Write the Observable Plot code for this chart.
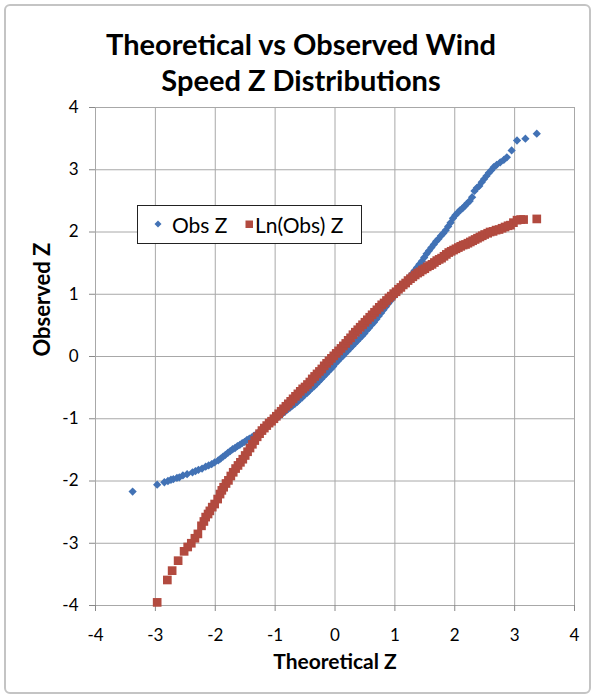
<!DOCTYPE html>
<html><head><meta charset="utf-8">
<script src="https://cdn.jsdelivr.net/npm/d3@7"></script>
<script src="https://cdn.jsdelivr.net/npm/@observablehq/plot@0.6"></script>
<style>
body{margin:0;background:#fff;}
#wrap{position:relative;width:594px;height:699px;overflow:hidden;font-family:Lato,"Open Sans",sans-serif;background:#fff;}
#frame{position:absolute;left:4px;top:4px;width:587px;height:690px;border:2px solid #c4c4c4;border-radius:6px;box-sizing:border-box;}
#title{position:absolute;left:0;width:602px;top:26px;text-align:center;font-weight:bold;font-size:29px;line-height:36px;color:#000;}
#chart{position:absolute;left:0;top:0;}
#legend{position:absolute;left:137px;top:205px;width:225px;height:39px;border:1px solid #222;background:#fff;box-sizing:border-box;font-size:21px;color:#000;}
#legend .it{position:absolute;top:0;line-height:37px;white-space:nowrap;}
#legend svg{position:absolute;}
</style></head>
<body>
<div id="wrap">
  <div id="frame"></div>
  <div id="chart"></div>
  <div id="title">Theoretical vs Observed Wind<br>Speed Z Distributions</div>
  <div id="legend">
    <svg style="left:15px;top:13px" width="10" height="10"><path d="M5,1.5L8.5,5L5,8.5L1.5,5Z" fill="#4272b5"/></svg>
    <span class="it" style="left:34px">Obs Z</span>
    <svg style="left:107px;top:14px" width="9" height="9"><rect x="0.5" y="0.5" width="7.5" height="7.5" fill="#b24a3f"/></svg>
    <span class="it" style="left:117px">Ln(Obs) Z</span>
  </div>
</div>
<script>
const ticks = [-4, -3, -2, -1, 0, 1, 2, 3, 4];
const seriesNames = ["Obs Z", "Ln(Obs) Z"];

const obsX = [-3.38,-2.97,-2.85,-2.79,-2.74,-2.70,-2.64,-2.60,-2.54,-2.47,-2.38,-2.33,-2.28,-2.22,-2.16,-2.11,-2.06,-2.01,-1.95,-1.91,-1.87,-1.83,-1.79,-1.75,-1.71,-1.67,-1.63,-1.59,-1.55,-1.51,-1.47,-1.43,-1.39,-1.35,-1.31,-1.27,-1.23,-1.19,-1.15,-1.11,-1.07,-1.03,-0.99,-0.95,-0.91,-0.87,-0.83,-0.79,-0.75,-0.71,-0.67,-0.63,-0.59,-0.55,-0.51,-0.47,-0.43,-0.39,-0.35,-0.31,-0.27,-0.23,-0.19,-0.15,-0.11,-0.07,-0.03,0.01,0.05,0.09,0.13,0.17,0.21,0.25,0.29,0.33,0.37,0.41,0.45,0.49,0.53,0.57,0.61,0.65,0.69,0.73,0.77,0.81,0.85,0.89,0.93,0.97,1.01,1.05,1.09,1.13,1.17,1.21,1.25,1.29,1.33,1.37,1.41,1.45,1.49,1.53,1.57,1.61,1.65,1.69,1.73,1.77,1.81,1.85,1.89,1.93,1.97,2.01,2.05,2.09,2.13,2.17,2.21,2.25,2.29,2.33,2.37,2.41,2.45,2.49,2.53,2.57,2.61,2.65,2.70,2.76,2.82,2.87,2.95,3.04,3.18,3.37];
const obsY = [-2.17,-2.06,-2.02,-2.00,-1.98,-1.97,-1.95,-1.94,-1.91,-1.89,-1.86,-1.84,-1.82,-1.80,-1.77,-1.75,-1.73,-1.70,-1.67,-1.64,-1.61,-1.58,-1.55,-1.52,-1.49,-1.47,-1.44,-1.42,-1.39,-1.37,-1.34,-1.32,-1.30,-1.27,-1.25,-1.22,-1.18,-1.15,-1.12,-1.09,-1.06,-1.03,-1.00,-0.97,-0.94,-0.91,-0.88,-0.85,-0.82,-0.79,-0.76,-0.73,-0.69,-0.66,-0.62,-0.59,-0.55,-0.51,-0.48,-0.44,-0.40,-0.36,-0.32,-0.28,-0.24,-0.20,-0.16,-0.11,-0.07,-0.03,0.01,0.05,0.09,0.13,0.17,0.21,0.25,0.29,0.33,0.37,0.42,0.46,0.51,0.55,0.60,0.65,0.70,0.75,0.80,0.85,0.90,0.95,0.99,1.04,1.09,1.14,1.18,1.23,1.28,1.33,1.38,1.43,1.48,1.53,1.59,1.65,1.70,1.75,1.80,1.85,1.89,1.94,1.98,2.03,2.09,2.15,2.22,2.27,2.31,2.35,2.38,2.42,2.46,2.50,2.56,2.66,2.71,2.74,2.80,2.85,2.90,2.95,2.99,3.04,3.08,3.12,3.16,3.20,3.31,3.47,3.50,3.58];

const lnX = [-2.97,-2.80,-2.72,-2.62,-2.52,-2.46,-2.40,-2.34,-2.29,-2.23,-2.19,-2.16,-2.12,-2.09,-2.05,-2.01,-1.96,-1.92,-1.89,-1.86,-1.82,-1.78,-1.74,-1.70,-1.66,-1.62,-1.58,-1.54,-1.50,-1.46,-1.42,-1.38,-1.34,-1.30,-1.26,-1.22,-1.18,-1.14,-1.10,-1.06,-1.02,-0.98,-0.94,-0.90,-0.86,-0.82,-0.78,-0.74,-0.70,-0.66,-0.62,-0.58,-0.54,-0.50,-0.46,-0.42,-0.38,-0.34,-0.30,-0.26,-0.22,-0.18,-0.14,-0.10,-0.06,-0.02,0.02,0.06,0.10,0.14,0.18,0.22,0.26,0.30,0.34,0.38,0.42,0.46,0.50,0.54,0.58,0.62,0.66,0.70,0.74,0.78,0.82,0.86,0.90,0.94,0.98,1.02,1.06,1.10,1.14,1.18,1.22,1.26,1.30,1.34,1.38,1.42,1.46,1.50,1.54,1.58,1.62,1.66,1.70,1.74,1.78,1.82,1.86,1.90,1.94,1.98,2.02,2.06,2.10,2.14,2.18,2.22,2.26,2.30,2.34,2.38,2.42,2.46,2.50,2.55,2.59,2.64,2.69,2.74,2.79,2.84,2.89,2.93,2.98,3.04,3.10,3.15,3.37];
const lnY = [-3.95,-3.59,-3.44,-3.28,-3.13,-3.06,-3.00,-2.92,-2.85,-2.72,-2.65,-2.58,-2.53,-2.48,-2.42,-2.37,-2.29,-2.21,-2.15,-2.10,-2.04,-1.99,-1.92,-1.86,-1.80,-1.75,-1.70,-1.65,-1.59,-1.53,-1.47,-1.41,-1.35,-1.29,-1.24,-1.19,-1.15,-1.11,-1.07,-1.04,-1.00,-0.96,-0.92,-0.88,-0.84,-0.80,-0.76,-0.72,-0.68,-0.64,-0.60,-0.56,-0.52,-0.49,-0.45,-0.41,-0.36,-0.32,-0.28,-0.24,-0.20,-0.15,-0.11,-0.07,-0.03,0.01,0.05,0.09,0.13,0.17,0.21,0.26,0.30,0.35,0.39,0.43,0.47,0.51,0.55,0.59,0.63,0.67,0.71,0.75,0.79,0.83,0.86,0.90,0.94,0.97,1.01,1.04,1.08,1.11,1.15,1.18,1.22,1.25,1.28,1.31,1.34,1.36,1.39,1.41,1.44,1.46,1.48,1.51,1.54,1.56,1.58,1.61,1.64,1.67,1.69,1.71,1.73,1.75,1.77,1.79,1.80,1.82,1.84,1.86,1.88,1.90,1.92,1.94,1.96,1.98,2.00,2.01,2.03,2.04,2.06,2.08,2.10,2.11,2.15,2.19,2.20,2.20,2.21];

const obs = obsX.map((x, i) => ({x, y: obsY[i], s: seriesNames[0]}));
const ln = lnX.map((x, i) => ({x, y: lnY[i], s: seriesNames[1]}));

const diamond = {draw(ctx, size) {
  const h = Math.sqrt(size / 2);
  ctx.moveTo(0, -h); ctx.lineTo(h, 0); ctx.lineTo(0, h); ctx.lineTo(-h, 0); ctx.closePath();
}};

const chart = Plot.plot({
  width: 594, height: 699,
  marginTop: 107, marginBottom: 94, marginLeft: 95, marginRight: 20,
  style: {fontFamily: "Lato, 'Open Sans', sans-serif", background: "transparent", color: "#000", overflow: "visible"},
  x: {domain: [-4, 4]},
  y: {domain: [-4, 4]},
  marks: [
    Plot.gridX(ticks, {stroke: "#a8a8a8", strokeOpacity: 1}),
    Plot.gridY(ticks, {stroke: "#a8a8a8", strokeOpacity: 1}),
    Plot.axisX(ticks, {tickSize: 6, tickPadding: 17, fontSize: 17, label: null, stroke: "#888", fill: "#000", tickFormat: d => String(d)}),
    Plot.axisY(ticks, {tickSize: 6, tickPadding: 11, fontSize: 17, label: null, stroke: "#888", fill: "#000", tickFormat: d => String(d)}),
    Plot.dot(obs, {x: "x", y: "y", symbol: diamond, r: 3.3, fill: "#4272b5"}),
    Plot.dot(ln, {x: "x", y: "y", symbol: "square", r: 4.9, fill: "#b24a3f"}),
    Plot.text(["Theoretical Z"], {text: d => d, frameAnchor: "bottom", dy: 63, fontSize: 21, fontWeight: "bold", fill: "#000"}),
    Plot.text(["Observed Z"], {text: d => d, frameAnchor: "left", dx: -53, rotate: -90, fontSize: 22, fontWeight: "bold", fill: "#000"})
  ]
});
document.getElementById("chart").appendChild(chart);
</script>
</body></html>
